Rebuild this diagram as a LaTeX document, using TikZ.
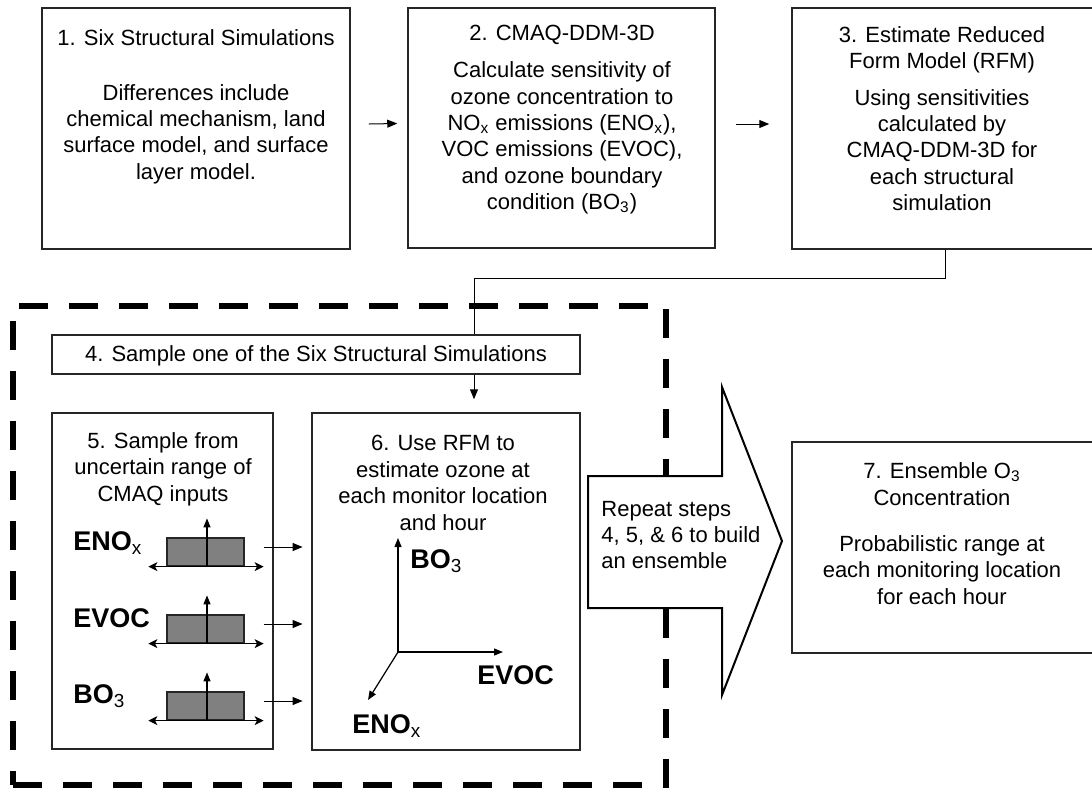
\documentclass[tikz,border=0pt]{standalone}
\usepackage{fontspec}
\setmainfont{Liberation Sans}
\usetikzlibrary{arrows.meta,fit,calc}

% subscript set in regular weight inside bold labels
\newcommand{\lowsub}[1]{\textsubscript{\mdseries #1}}

\begin{document}
\begin{tikzpicture}[x=0.5pt,y=-0.5pt,
  box/.style={draw=black!85, line width=0.75pt, inner sep=0pt, fill=white},
  txt/.style={align=center, font=\fontsize{11}{13.2}\selectfont, inner sep=0pt},
  lab/.style={font=\fontsize{13.5}{16}\selectfont\bfseries, inner sep=0pt, anchor=base west},
  arr/.style={line width=0.5pt, -{Triangle[length=5pt,width=4pt]}},
  axisarrow/.style={line width=0.6pt, -{Triangle[length=4.5pt,width=3.5pt]}},
  spanarrow/.style={line width=0.6pt, {Stealth[length=4.5pt,width=4.5pt,inset=1.2pt]}-{Stealth[length=4.5pt,width=4.5pt,inset=1.2pt]}},
  dist/.style={draw=black!85, line width=0.6pt, fill=black!50, inner sep=0pt},
  loopframe/.style={draw=black, line width=3pt, dash pattern=on 14.5pt off 10.5pt, inner sep=0pt}
]
\useasboundingbox (0,0) rectangle (1092,789);

% ---------- top row ----------
\node[box, fit={(42,8)(350,249)}] (b1) {};
\node[txt] (t1) at (196,38) {1. Six Structural Simulations};
\node[txt] (t1b) at (196,134) {Differences include\\chemical mechanism, land\\surface model, and surface\\layer model.};

\node[box, fit={(408,8)(715,248)}] (b2) {};
\node[txt] (t2) at (562,35) {2. CMAQ-DDM-3D};
\node[txt] (t2b) at (562,138) {Calculate sensitivity of\\ozone concentration to\\NO\textsubscript{x} emissions (ENO\textsubscript{x}),\\VOC emissions (EVOC),\\and ozone boundary\\condition (BO\textsubscript{3})};

\node[box, fit={(792,8)(1096,249)}] (b3) {};
\node[txt] (t3) at (942,50) {3. Estimate Reduced\\Form Model (RFM)};
\node[txt] (t3b) at (942,150) {Using sensitivities\\calculated by\\CMAQ-DDM-3D for\\each structural\\simulation};

\draw[arr] ([shift={(9pt,2.25pt)}]b1.east) -- ([shift={(-5pt,2.25pt)}]b2.west);
\draw[arr] ([shift={(10pt,2pt)}]b2.east) -- ([shift={(-11pt,2.25pt)}]b3.west);

% ---------- repeated sampling loop ----------
\node[loopframe, fit={(13,306)(666,785)}] (loop) {};

\node[box, fit={(52,335)(580,374)}] (b4) {};
\node[txt] (t4) at (316,356) {4. Sample one of the Six Structural Simulations};

\coordinate (j) at (474,278);
\draw[line width=0.5pt] ([xshift=0.75pt]b3.south) |- (j) -- (j |- b4.north);

% step 5: input ranges
\node[box, fit={(52,413)(273,749)}] (b5) {};
\node[txt] (t5) at (163,469) {5. Sample from\\uncertain range of\\CMAQ inputs};

\node[lab] (l1) at (73,550) {ENO\lowsub{x}};
\node[lab] (l2) at (73,627) {EVOC};
\node[lab] (l3) at (73,703) {BO\lowsub{3}};

\foreach \i/\yt in {1/538, 2/615, 3/692} {
  \node[dist, fit={(167,\yt)(244,\yt+28)}] (d\i) {};
  \draw[spanarrow] ([xshift=-9pt]d\i.south west) -- ([xshift=9.5pt]d\i.south east);
  \draw[axisarrow] ([xshift=0.75pt]d\i.south) -- ([shift={(0.75pt,9.5pt)}]d\i.north);
  \draw[arr] ([shift={(9.5pt,2.5pt)}]d\i.east) -- ++(19.5pt,0);
}

% step 6: reduced form model
\node[box, fit={(312,413)(580,750)}] (b6) {};
\node[txt] (t6) at (443,483) {6. Use RFM to\\estimate ozone at\\each monitor location\\and hour};

\draw[arr] (b4.south -| j) -- ([yshift=6.5pt]b6.north -| j);

\coordinate (o) at (398,652);
\draw[axisarrow] (o) -- (398,538);
\draw[axisarrow] (o) -- (503,652);
\draw[axisarrow] (o) -- (368,700);
\node[lab] (a1) at (410,568) {BO\lowsub{3}};
\node[lab] (a2) at (477,684) {EVOC};
\node[lab] (a3) at (352,733) {ENO\lowsub{x}};

% ---------- big arrow and result ----------
\draw[line width=1pt, fill=white, line join=miter]
  (588,476) -- (722,476) -- (722,387) -- (782,541) -- (722,695) -- (722,608) -- (588,608) -- cycle;
\node[txt, align=left, anchor=west] (rep) at (601,535) {Repeat steps\\4, 5, \& 6 to build\\an ensemble};

\node[box, fit={(792,442)(1096,653)}] (b7) {};
\node[txt] (t7) at (942,484) {7. Ensemble O\textsubscript{3}\\Concentration};
\node[txt] (t7b) at (942,570) {Probabilistic range at\\each monitoring location\\for each hour};

\end{tikzpicture}
\end{document}
